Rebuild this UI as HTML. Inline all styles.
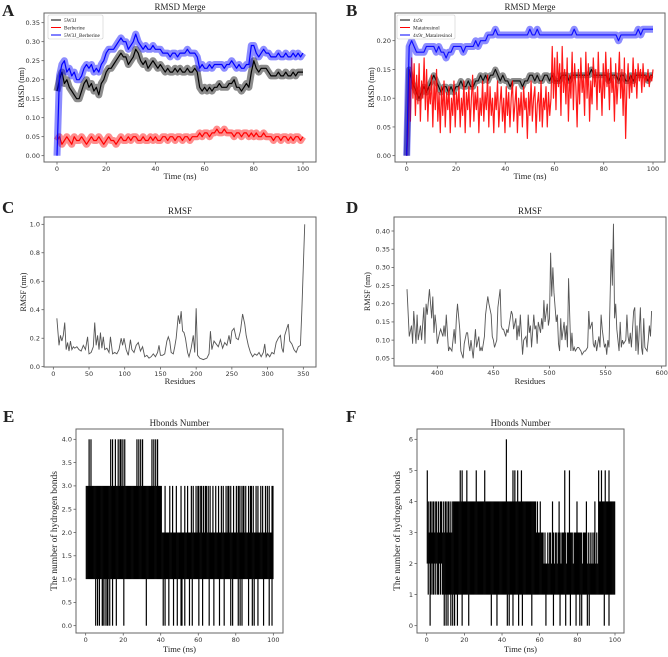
<!DOCTYPE html>
<html><head><meta charset="utf-8">
<style>
html,body{margin:0;padding:0;background:#fff;}
svg{display:block;}
.tk{font-family:"DejaVu Sans","Liberation Sans",sans-serif;font-size:6.5px;fill:#333;}
.lb{font-family:"Liberation Serif",serif;fill:#222;}
</style></head>
<body>
<svg id="fig" width="668" height="657" viewBox="0 0 668 657" xmlns="http://www.w3.org/2000/svg"></svg>
<script>
// ---- Panel A data ----
const rmsdA_5w3j=[0.17,0.20,0.22,0.19,0.20,0.18,0.17,0.16,0.15,0.15,0.17,0.19,0.20,0.18,0.19,0.17,0.18,0.16,0.19,0.20,0.22,0.23,0.23,0.24,0.25,0.26,0.27,0.26,0.26,0.24,0.25,0.26,0.28,0.27,0.25,0.24,0.25,0.23,0.24,0.25,0.24,0.23,0.24,0.23,0.22,0.23,0.22,0.22,0.23,0.22,0.23,0.22,0.22,0.23,0.22,0.22,0.23,0.22,0.18,0.17,0.18,0.17,0.18,0.17,0.18,0.18,0.19,0.18,0.18,0.18,0.19,0.19,0.20,0.18,0.18,0.17,0.18,0.19,0.18,0.22,0.25,0.23,0.22,0.23,0.23,0.23,0.22,0.21,0.21,0.21,0.22,0.21,0.21,0.22,0.21,0.21,0.22,0.21,0.22,0.22,0.22];
const rmsdA_berberine=[0.04,0.05,0.03,0.04,0.05,0.04,0.03,0.05,0.04,0.04,0.05,0.04,0.03,0.04,0.05,0.04,0.04,0.05,0.04,0.03,0.04,0.05,0.04,0.04,0.03,0.04,0.05,0.04,0.04,0.05,0.04,0.05,0.05,0.04,0.04,0.05,0.04,0.04,0.05,0.04,0.05,0.04,0.04,0.05,0.05,0.04,0.05,0.05,0.04,0.05,0.05,0.04,0.05,0.05,0.04,0.05,0.05,0.05,0.06,0.05,0.06,0.06,0.05,0.06,0.06,0.07,0.06,0.06,0.07,0.06,0.06,0.06,0.05,0.06,0.06,0.05,0.06,0.06,0.05,0.06,0.05,0.06,0.05,0.05,0.06,0.05,0.05,0.05,0.04,0.05,0.05,0.04,0.05,0.05,0.04,0.05,0.04,0.05,0.05,0.04,0.05];
const rmsdA_complex=[0.00,0.21,0.24,0.25,0.22,0.23,0.21,0.22,0.20,0.20,0.21,0.23,0.24,0.23,0.24,0.22,0.23,0.22,0.24,0.25,0.27,0.28,0.28,0.28,0.29,0.30,0.31,0.30,0.30,0.28,0.29,0.30,0.32,0.30,0.29,0.28,0.29,0.28,0.28,0.29,0.28,0.28,0.28,0.27,0.27,0.27,0.26,0.27,0.27,0.26,0.27,0.27,0.27,0.28,0.27,0.27,0.27,0.26,0.23,0.24,0.23,0.23,0.24,0.23,0.24,0.24,0.24,0.24,0.23,0.24,0.24,0.25,0.24,0.23,0.24,0.23,0.23,0.24,0.24,0.29,0.29,0.27,0.26,0.27,0.28,0.27,0.27,0.26,0.26,0.26,0.27,0.26,0.26,0.27,0.26,0.26,0.27,0.26,0.27,0.26,0.27];
// ---- Panel B data ----
const rmsdB_4x9r=[0.00,0.15,0.13,0.12,0.11,0.10,0.11,0.12,0.11,0.12,0.13,0.14,0.13,0.12,0.11,0.12,0.12,0.11,0.12,0.11,0.12,0.12,0.13,0.12,0.12,0.13,0.12,0.12,0.13,0.13,0.14,0.13,0.14,0.13,0.14,0.14,0.15,0.14,0.13,0.14,0.13,0.13,0.12,0.13,0.13,0.13,0.13,0.12,0.13,0.13,0.14,0.14,0.13,0.14,0.13,0.13,0.14,0.14,0.13,0.14,0.13,0.13,0.13,0.14,0.14,0.14,0.13,0.14,0.14,0.14,0.14,0.14,0.14,0.14,0.14,0.15,0.14,0.14,0.14,0.14,0.14,0.14,0.13,0.14,0.14,0.14,0.13,0.14,0.14,0.13,0.13,0.14,0.13,0.14,0.14,0.14,0.14,0.14,0.13,0.14,0.14];
const rmsdB_matairesinol=[0.00,0.04,0.15,0.06,0.17,0.10,0.16,0.07,0.14,0.09,0.16,0.06,0.13,0.10,0.17,0.08,0.15,0.06,0.12,0.09,0.14,0.05,0.13,0.08,0.15,0.06,0.11,0.04,0.12,0.07,0.13,0.05,0.11,0.08,0.12,0.04,0.10,0.07,0.13,0.05,0.11,0.08,0.12,0.05,0.10,0.07,0.13,0.04,0.11,0.08,0.12,0.05,0.10,0.14,0.06,0.11,0.08,0.12,0.04,0.10,0.07,0.13,0.06,0.11,0.08,0.14,0.05,0.12,0.07,0.10,0.04,0.11,0.08,0.13,0.05,0.09,0.12,0.06,0.10,0.04,0.12,0.07,0.11,0.05,0.10,0.13,0.06,0.09,0.12,0.04,0.10,0.07,0.11,0.05,0.12,0.08,0.10,0.03,0.11,0.07,0.13,0.06,0.10,0.12,0.04,0.09,0.11,0.06,0.13,0.05,0.10,0.08,0.12,0.05,0.11,0.07,0.10,0.19,0.10,0.17,0.08,0.18,0.12,0.16,0.07,0.19,0.11,0.15,0.09,0.17,0.06,0.14,0.10,0.18,0.08,0.16,0.12,0.05,0.15,0.09,0.17,0.11,0.14,0.07,0.18,0.10,0.16,0.06,0.13,0.09,0.17,0.12,0.15,0.08,0.18,0.11,0.14,0.07,0.16,0.10,0.18,0.12,0.15,0.08,0.17,0.11,0.14,0.06,0.16,0.09,0.13,0.18,0.10,0.15,0.07,0.17,0.03,0.12,0.16,0.10,0.14,0.11,0.17,0.12,0.15,0.10,0.16,0.13,0.15,0.11,0.16,0.12,0.14,0.13,0.15,0.12,0.14,0.13,0.15];
const rmsdB_complex=[0.00,0.19,0.20,0.19,0.18,0.18,0.18,0.18,0.19,0.19,0.19,0.19,0.18,0.19,0.18,0.18,0.17,0.18,0.18,0.19,0.19,0.19,0.19,0.18,0.19,0.19,0.19,0.19,0.20,0.19,0.20,0.20,0.20,0.21,0.21,0.21,0.22,0.21,0.21,0.21,0.21,0.21,0.21,0.21,0.21,0.21,0.21,0.21,0.21,0.21,0.22,0.21,0.21,0.22,0.21,0.21,0.21,0.21,0.21,0.21,0.21,0.21,0.21,0.21,0.21,0.21,0.21,0.21,0.22,0.21,0.21,0.21,0.21,0.21,0.21,0.21,0.21,0.21,0.21,0.21,0.21,0.21,0.21,0.21,0.21,0.21,0.20,0.21,0.21,0.21,0.21,0.21,0.21,0.21,0.22,0.21,0.22,0.22,0.22,0.22,0.22];
// ---- Panel C data ----
const residuesC=[5,8,10,12,14,16,18,20,22,24,26,28,30,33,36,39,42,45,48,50,53,56,58,60,62,64,66,68,70,72,75,78,80,83,86,89,92,95,97,99,102,105,108,110,113,116,119,122,125,128,131,134,137,140,143,146,148,150,153,156,159,161,163,165,168,170,172,175,177,179,181,183,185,188,190,193,196,198,200,202,205,210,215,218,220,222,225,228,231,234,237,240,243,246,248,250,253,256,259,262,265,268,270,273,276,279,282,285,288,291,294,296,298,300,303,306,309,312,315,318,320,322,324,327,329,331,334,337,340,343,346,348,352];
const rmsfC=[0.34,0.15,0.22,0.18,0.22,0.31,0.12,0.17,0.11,0.18,0.12,0.14,0.13,0.14,0.12,0.11,0.15,0.12,0.21,0.09,0.10,0.14,0.31,0.15,0.22,0.12,0.24,0.13,0.21,0.12,0.13,0.10,0.21,0.09,0.10,0.09,0.12,0.20,0.15,0.20,0.12,0.08,0.19,0.12,0.10,0.15,0.17,0.11,0.14,0.07,0.08,0.06,0.07,0.09,0.07,0.10,0.15,0.08,0.08,0.09,0.18,0.21,0.18,0.10,0.09,0.14,0.20,0.36,0.30,0.39,0.25,0.24,0.20,0.10,0.07,0.13,0.22,0.10,0.41,0.08,0.06,0.05,0.06,0.09,0.25,0.12,0.18,0.16,0.14,0.19,0.13,0.17,0.15,0.22,0.16,0.25,0.27,0.20,0.19,0.25,0.37,0.30,0.22,0.15,0.10,0.07,0.09,0.08,0.10,0.07,0.10,0.16,0.07,0.09,0.07,0.10,0.09,0.17,0.20,0.22,0.13,0.10,0.22,0.27,0.30,0.18,0.16,0.12,0.10,0.14,0.15,0.40,1.00];
// ---- Panel D data ----
const residuesD=[373,375,377,378,379,381,382,383,385,386,388,389,390,391,393,395,396,397,398,399,400,402,403,405,406,407,408,410,411,413,414,415,416,417,418,420,421,423,424,426,427,428,429,430,432,433,434,435,437,438,439,440,442,443,445,446,448,449,450,451,453,454,456,457,458,459,461,462,463,465,466,467,468,470,471,472,473,474,476,477,479,480,481,482,483,484,486,487,488,489,490,492,493,494,495,496,498,499,500,501,502,503,504,506,507,508,509,510,511,513,514,515,516,517,519,520,521,522,523,525,526,528,529,531,532,534,535,536,538,539,540,541,542,544,545,546,547,549,550,551,552,553,555,556,557,558,559,560,562,563,564,565,566,568,569,570,571,572,573,575,576,577,578,579,581,582,583,584,585,587,588,589,590,591];
const rmsfD=[0.24,0.11,0.14,0.09,0.18,0.09,0.17,0.10,0.14,0.10,0.19,0.09,0.20,0.17,0.24,0.16,0.22,0.12,0.17,0.14,0.09,0.12,0.13,0.11,0.14,0.11,0.17,0.07,0.08,0.07,0.10,0.13,0.09,0.16,0.20,0.13,0.07,0.05,0.09,0.12,0.12,0.09,0.07,0.10,0.05,0.09,0.13,0.08,0.11,0.07,0.08,0.07,0.11,0.17,0.22,0.20,0.17,0.11,0.10,0.08,0.10,0.19,0.24,0.14,0.13,0.13,0.11,0.13,0.12,0.16,0.18,0.17,0.13,0.16,0.10,0.14,0.11,0.17,0.06,0.10,0.11,0.08,0.17,0.12,0.14,0.08,0.17,0.13,0.14,0.09,0.15,0.12,0.16,0.13,0.21,0.15,0.20,0.14,0.16,0.34,0.22,0.30,0.23,0.15,0.17,0.09,0.07,0.16,0.10,0.15,0.10,0.14,0.08,0.27,0.07,0.12,0.07,0.08,0.07,0.08,0.08,0.07,0.06,0.07,0.07,0.08,0.18,0.13,0.15,0.09,0.08,0.10,0.07,0.11,0.08,0.17,0.13,0.08,0.09,0.06,0.10,0.08,0.35,0.25,0.42,0.16,0.20,0.13,0.07,0.15,0.08,0.10,0.09,0.10,0.17,0.11,0.09,0.12,0.08,0.18,0.19,0.07,0.14,0.06,0.19,0.08,0.06,0.16,0.08,0.07,0.10,0.14,0.11,0.18];
// ---- Panel E data: per 0.5 ns bin, min and max hbond count ----
const hbondsE_max=[3,3,3,4,3,4,3,3,3,3,3,3,3,3,3,3,3,3,3,3,3,3,3,3,3,3,4,3,4,3,3,4,3,3,4,3,4,4,3,4,3,4,3,3,3,3,3,3,3,3,3,3,3,3,4,3,4,3,4,3,4,3,3,3,3,3,3,3,3,3,4,3,4,3,4,3,4,3,3,3,
3,2,2,2,3,2,2,2,2,3,2,2,3,2,2,2,3,2,2,2,2,3,2,2,2,3,2,2,3,2,2,2,3,2,3,2,2,3,2,3,3,2,3,3,2,3,2,3,3,2,3,2,3,2,2,3,2,2,3,2,2,3,2,2,3,2,3,2,2,3,2,3,3,2,3,2,2,3,2,2,3,2,3,3,2,3,2,3,3,2,3,2,2,3,2,3,3,2,3,2,2,3,2,3,2,2,3,2,3,2,2,3,2,3,2,3,2,2,3,3];
const hbondsE_min=[1,1,1,1,1,1,1,1,1,1,0,1,0,1,0,1,1,0,0,1,0,1,0,0,1,0,1,1,0,1,1,1,0,1,1,1,1,1,1,1,0,1,1,1,1,1,1,1,1,1,1,1,1,1,1,1,1,1,1,1,1,1,1,1,0,1,1,1,1,1,1,1,1,1,1,1,1,1,1,1,
1,1,0,1,0,1,1,1,0,1,1,1,1,0,1,1,1,0,1,1,1,0,0,1,1,0,1,1,1,1,0,1,1,0,1,1,1,1,1,1,0,1,1,1,0,1,1,1,1,1,1,0,1,1,1,1,0,1,1,1,1,1,0,1,1,1,1,0,1,1,1,1,1,1,0,1,0,1,1,1,1,1,0,1,0,1,0,1,1,1,1,1,1,0,1,1,1,0,1,0,1,1,1,0,1,1,1,1,1,0,1,1,1,1,1,0,1,1,0,1];
// ---- Panel F data ----
const hbondsF_max=[5,4,3,4,4,3,4,4,3,4,4,3,4,3,4,4,3,4,3,4,4,3,4,4,3,4,3,4,
4,4,4,4,4,4,4,5,4,5,4,4,4,4,5,4,4,4,4,4,4,4,4,4,5,4,4,4,4,4,4,4,4,5,4,4,4,4,4,4,4,4,4,4,4,4,4,4,4,4,4,4,4,4,4,4,6,4,4,4,4,4,4,5,4,5,4,4,5,4,4,4,5,4,4,4,4,4,4,4,4,4,4,4,4,4,4,4,
3,4,3,3,4,3,3,3,
2,3,2,2,3,2,3,3,2,4,3,2,3,3,2,3,4,3,2,3,3,3,5,3,2,3,3,5,3,3,3,2,3,3,3,4,3,3,3,3,3,2,3,3,3,4,2,3,2,3,2,3,2,3,4,2,3,2,
5,4,4,5,4,4,4,5,4,4,4,5,4,4,4,4,4,4];
const hbondsF_min=[2,1,2,0,1,2,1,1,2,1,2,1,1,2,1,2,1,1,0,1,0,1,0,1,1,0,1,0,1,0,1,1,0,1,1,1,1,0,1,1,1,1,1,1,0,1,1,1,1,1,1,1,1,1,1,1,1,1,1,1,1,1,1,1,1,1,1,1,0,1,1,1,1,1,0,1,1,1,1,1,1,1,1,1,1,0,1,0,1,1,1,0,1,1,1,1,1,0,1,1,1,0,1,1,1,1,1,1,1,1,1,0,1,1,1,1,1,1,1,1,1,1,1,1,1,1,0,1,1,1,1,1,1,1,0,1,1,1,1,1,1,0,1,1,1,1,1,0,1,1,1,1,0,1,1,1,1,1,0,1,1,1,0,1,0,1,1,1,1,1,0,1,0,1,1,1,1,1,1,1,1,1,1,1,1,1,1,1,0,1,1,1,1,0,1,1,1,1,1,1];
// ---- tick labels ----
const ticksTime=[0,20,40,60,80,100];
const ticksA=[0.00,0.05,0.10,0.15,0.20,0.25,0.30,0.35];
const ticksB=[0.00,0.05,0.10,0.15,0.20];
const ticksCx=[0,50,100,150,200,250,300,350];
const ticksCy=[0.0,0.2,0.4,0.6,0.8,1.0];
const ticksDx=[400,450,500,550,600];
const ticksDy=[0.05,0.10,0.15,0.20,0.25,0.30,0.35,0.40];
const ticksEy=[0.0,0.5,1.0,1.5,2.0,2.5,3.0,3.5,4.0];
const ticksFy=[0,1,2,3,4,5,6];

const NS="http://www.w3.org/2000/svg";
const fig=document.getElementById('fig');
function mk(tag,attrs,parent){const e=document.createElementNS(NS,tag);for(const k in attrs)e.setAttribute(k,attrs[k]);(parent||fig).appendChild(e);return e;}
function lin(d0,d1,r0,r1){return v=>r0+(v-d0)*(r1-r0)/(d1-d0);}

function axes(p){
  const g=mk('g',{});
  
  
  const letter=mk('text',{x:p.lx,y:p.ly,class:'lb','font-size':17,'font-weight':'bold'},g);
  letter.textContent=p.letter;
  
  
  const t=mk('text',{x:(p.x0+p.x1)/2,y:p.y0-3,class:'lb','font-size':9,'text-anchor':'middle'},g);
  t.textContent=p.title;
  
  
  const xl=mk('text',{x:(p.x0+p.x1)/2,y:p.xly,class:'lb','font-size':8.5,'text-anchor':'middle'},g);
  xl.textContent=p.xlabel;
  
  
  const yl=mk('text',{x:0,y:0,class:'lb','font-size':p.ylfs||8,'text-anchor':'middle',transform:`translate(${p.ylx},${(p.y0+p.y1)/2}) rotate(-90)`},g);
  yl.textContent=p.ylabel;
  
  
  p.xt.forEach(v=>{const x=p.sx(v);
    mk('line',{x1:x,x2:x,y1:p.y1,y2:p.y1+2.5,stroke:'#444','stroke-width':0.7},g);
    const tt=mk('text',{x:x,y:p.y1+9,class:'tk','text-anchor':'middle'},g);tt.textContent=v;
    
    });
  p.yt.forEach(v=>{const y=p.sy(v);
    mk('line',{x1:p.x0-2.5,x2:p.x0,y1:y,y2:y,stroke:'#444','stroke-width':0.7},g);
    const tt=mk('text',{x:p.x0-4,y:y+2.3,class:'tk','text-anchor':'end'},g);tt.textContent=v.toFixed(p.dec);
    
    });
  return g;
}
function frame(p,g){const r=mk('rect',{x:p.x0,y:p.y0,width:p.x1-p.x0,height:p.y1-p.y0,fill:'none',stroke:'#666','stroke-width':1},g);
  
  }
function seriesPts(xs,ys,sx,sy){return ys.map((v,i)=>sx(xs?xs[i]:i*100/(ys.length-1)).toFixed(2)+','+sy(v).toFixed(2)).join(' ');}
function band(g,pts,col,w,op){mk('polyline',{points:pts,fill:'none',stroke:col,'stroke-width':w,'stroke-opacity':op,'stroke-linejoin':'round'},g);}
function legend(g,x,y,w,items){
  const lg=mk('g',{},g);
  
  
  mk('rect',{x:x,y:y,width:w,height:24,fill:'#fff','fill-opacity':0.9,stroke:'#ccc','stroke-width':0.6,rx:1.5},lg);
  items.forEach((it,i)=>{const yy=y+5+i*7.5;
    const le=mk('g',{},lg);
    
    
    mk('line',{x1:x+3,x2:x+13,y1:yy,y2:yy,stroke:it[1],'stroke-width':1},le);
    const t=mk('text',{x:x+16,y:yy+1.8,class:'lb','font-size':5.3},le);t.textContent=it[0];});
}
function hbondBins(g,p,mins,maxs){
  const n=maxs.length, w=(p.sx(100)-p.sx(0))/n;
  const bg=mk('g',{},g);
  
  
  for(let i=0;i<n;i++){
    const x=p.sx(i*100/n);
    const lo=p.sy(mins[i]), hi=p.sy(maxs[i]);
    // solid core between 1 and min(max,2) style: full rect from min to max
    mk('rect',{x:x.toFixed(2),y:hi.toFixed(2),width:(w+0.25).toFixed(2),height:(lo-hi).toFixed(2),fill:'#000'},bg);
  }
}

// Panel A
(function(){
  const p={name:'panel-a-rmsd',letter:'A',lx:2,ly:16,title:'RMSD Merge',xlabel:'Time (ns)',ylabel:'RMSD (nm)',x0:44,x1:316,y0:13,y1:162,xly:179,ylx:24,
    sx:lin(0,100,57,303),sy:lin(0,0.35,155.7,22.7),xt:ticksTime,yt:ticksA,dec:2};
  const g=axes(p);
  const sets=[[rmsdA_5w3j,'#000','series-5w3j'],[rmsdA_berberine,'#f00','series-berberine'],[rmsdA_complex,'#00f','series-5w3j-berberine']];
  sets.forEach(s=>{const sg=mk('g',{},g);
    
    
    const pts=seriesPts(null,s[0],p.sx,p.sy);band(sg,pts,s[1],7,0.45);band(sg,pts,s[1],1.2,1);});
  frame(p,g);
  legend(g,48,15,55,[['5W3J','#000'],['Berberine','#f00'],['5W3J_Berberine','#00f']]);
})();
// Panel B
(function(){
  const p={name:'panel-b-rmsd',letter:'B',lx:346,ly:16,title:'RMSD Merge',xlabel:'Time (ns)',ylabel:'RMSD (nm)',x0:395,x1:665,y0:13,y1:162,xly:179,ylx:374,
    sx:lin(0,100,406.7,653),sy:lin(0,0.20,155.7,40.7),xt:ticksTime,yt:ticksB,dec:2};
  const g=axes(p);
  const sets=[[rmsdB_4x9r,'#000','series-4x9r',6],[rmsdB_matairesinol,'#f00','series-matairesinol',0],[rmsdB_complex,'#00f','series-4x9r-matairesinol',7]];
  sets.forEach(s=>{const sg=mk('g',{},g);
    
    
    const pts=seriesPts(null,s[0],p.sx,p.sy);if(s[3])band(sg,pts,s[1],s[3],0.45);band(sg,pts,s[1],1.2,0.9);});
  frame(p,g);
  legend(g,397,15,58,[['4x9r','#000'],['Matairesinol','#f00'],['4x9r_Matairesinol','#00f']]);
})();
// Panel C
(function(){
  const p={name:'panel-c-rmsf',letter:'C',lx:2,ly:213,title:'RMSF',xlabel:'Residues',ylabel:'RMSF (nm)',x0:44,x1:316,y0:217,y1:367,xly:384,ylx:26,
    sx:lin(0,350,53.3,303.3),sy:lin(0,1.0,366.7,224.3),xt:ticksCx,yt:ticksCy,dec:1};
  const g=axes(p);
  const l=mk('polyline',{points:seriesPts(residuesC,rmsfC,p.sx,p.sy),fill:'none',stroke:'#555','stroke-width':0.9},g);
  
  
  frame(p,g);
})();
// Panel D
(function(){
  const p={name:'panel-d-rmsf',letter:'D',lx:346,ly:213,title:'RMSF',xlabel:'Residues',ylabel:'RMSF (nm)',x0:394,x1:666,y0:217,y1:366,xly:384,ylx:370,
    sx:lin(400,600,437.3,661.7),sy:lin(0.05,0.40,358.3,231),xt:ticksDx,yt:ticksDy,dec:2};
  const g=axes(p);
  const l=mk('polyline',{points:seriesPts(residuesD,rmsfD,p.sx,p.sy),fill:'none',stroke:'#555','stroke-width':0.9},g);
  
  
  frame(p,g);
})();
// Panel E
(function(){
  const p={name:'panel-e-hbonds',letter:'E',lx:3,ly:422,title:'Hbonds Number',xlabel:'Time (ns)',ylabel:'The number of hydrogen bonds',ylfs:9.5,x0:76,x1:283,y0:429,y1:633,xly:652,ylx:57,
    sx:lin(0,100,85.7,273.3),sy:lin(0,4,625.7,439.3),xt:ticksTime,yt:ticksEy,dec:1};
  const g=axes(p);
  hbondBins(g,p,hbondsE_min,hbondsE_max);
  frame(p,g);
})();
// Panel F
(function(){
  const p={name:'panel-f-hbonds',letter:'F',lx:346,ly:422,title:'Hbonds Number',xlabel:'Time (ns)',ylabel:'The number of hydrogen bonds',ylfs:9.5,x0:417,x1:624,y0:429,y1:633,xly:652,ylx:400,
    sx:lin(0,100,426.7,615),sy:lin(0,6,625.7,439.3),xt:ticksTime,yt:ticksFy,dec:0};
  const g=axes(p);
  hbondBins(g,p,hbondsF_min,hbondsF_max);
  frame(p,g);
})();
</script>
</body></html>
